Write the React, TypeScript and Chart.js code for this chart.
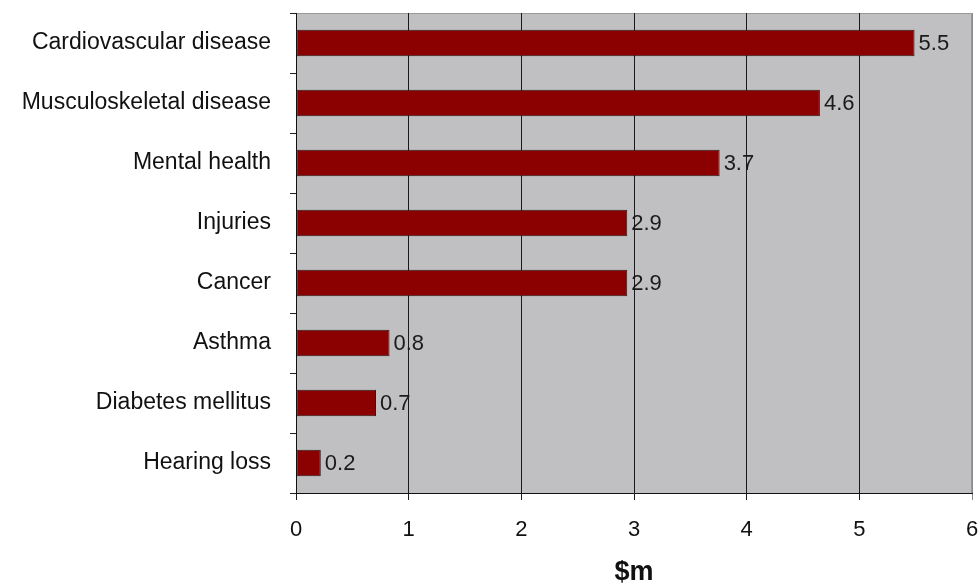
import React, { useEffect, useRef } from 'react';
import { Chart, registerables } from 'chart.js';
Chart.register(...registerables);

const categories = [
  'Cardiovascular disease',
  'Musculoskeletal disease',
  'Mental health',
  'Injuries',
  'Cancer',
  'Asthma',
  'Diabetes mellitus',
  'Hearing loss',
];
const costs = [5.49, 4.65, 3.76, 2.94, 2.94, 0.83, 0.71, 0.22];
const costLabels = ['5.5', '4.6', '3.7', '2.9', '2.9', '0.8', '0.7', '0.2'];
const xMin = 0;
const xMax = 6;
const xTitle = '$m';

const FONT = "'Liberation Sans', Arial, sans-serif";

const plotBg = {
  id: 'plotBg',
  beforeDraw(chart: any) {
    const { ctx, chartArea: a } = chart;
    ctx.save();
    ctx.fillStyle = '#C0C0C2';
    ctx.fillRect(a.left, a.top, a.right - a.left, a.bottom - a.top);
    ctx.strokeStyle = '#9a9a9a';
    ctx.lineWidth = 1;
    ctx.strokeRect(a.left + 0.5, a.top + 0.5, a.right - a.left - 1, a.bottom - a.top);
    ctx.restore();
  },
};

const valueLabels = {
  id: 'valueLabels',
  afterDatasetsDraw(chart: any) {
    const { ctx } = chart;
    const meta = chart.getDatasetMeta(0);
    ctx.save();
    ctx.font = `22px ${FONT}`;
    ctx.fillStyle = '#1a1a1a';
    ctx.textAlign = 'left';
    ctx.textBaseline = 'middle';
    meta.data.forEach((bar: any, i: number) => {
      ctx.fillText(costLabels[i], bar.x + 4, bar.y + 1);
    });
    ctx.restore();
  },
};

export default function App() {
  const ref = useRef<HTMLCanvasElement>(null);
  useEffect(() => {
    if (!ref.current) return;
    const chart = new Chart(ref.current, {
      type: 'bar',
      data: {
        labels: categories,
        datasets: [
          {
            data: costs,
            backgroundColor: '#8B0000',
            borderColor: '#2a1a1a',
            borderWidth: 1,
            borderSkipped: false,
            barPercentage: 0.44,
            categoryPercentage: 1,
          },
        ],
      },
      plugins: [plotBg, valueLabels],
      options: {
        indexAxis: 'y',
        animation: false,
        responsive: true,
        maintainAspectRatio: false,
        layout: { padding: { top: 13, right: 7, left: 0, bottom: 0 } },
        plugins: { legend: { display: false }, tooltip: { enabled: false } },
        scales: {
          x: {
            min: xMin,
            max: xMax,
            ticks: {
              stepSize: 1,
              color: '#111',
              font: { family: FONT, size: 22 },
              padding: 17,
            },
            grid: {
              color: (c: any) => (c.tick && c.tick.value === xMax ? '#8a8a8a' : '#1a1a1a'),
              lineWidth: 1,
              tickLength: 7,
              drawTicks: true,
            },
            border: { color: '#111', width: 1 },
            title: {
              display: true,
              text: xTitle,
              color: '#111',
              font: { family: FONT, size: 27, weight: 'bold', lineHeight: 1 },
              padding: { top: 0, bottom: 0 },
            },
            afterFit(scale: any) {
              scale.height = 93;
              scale.paddingLeft = 0;
              scale.paddingRight = 0;
            },
          },
          y: {
            ticks: {
              color: '#111',
              font: { family: FONT, size: 23 },
              padding: 19,
            },
            grid: {
              offset: true,
              drawOnChartArea: false,
              drawTicks: true,
              tickLength: 6,
              color: '#222',
            },
            border: { color: '#111', width: 1 },
            afterFit(scale: any) {
              scale.width = 296;
              scale.paddingTop = 0;
              scale.paddingBottom = 0;
            },
          },
        },
      },
    });
    return () => chart.destroy();
  }, []);
  return (
    <div style={{ position: 'absolute', left: 0, top: 0, width: 979, height: 586 }}>
      <canvas ref={ref} />
    </div>
  );
}
